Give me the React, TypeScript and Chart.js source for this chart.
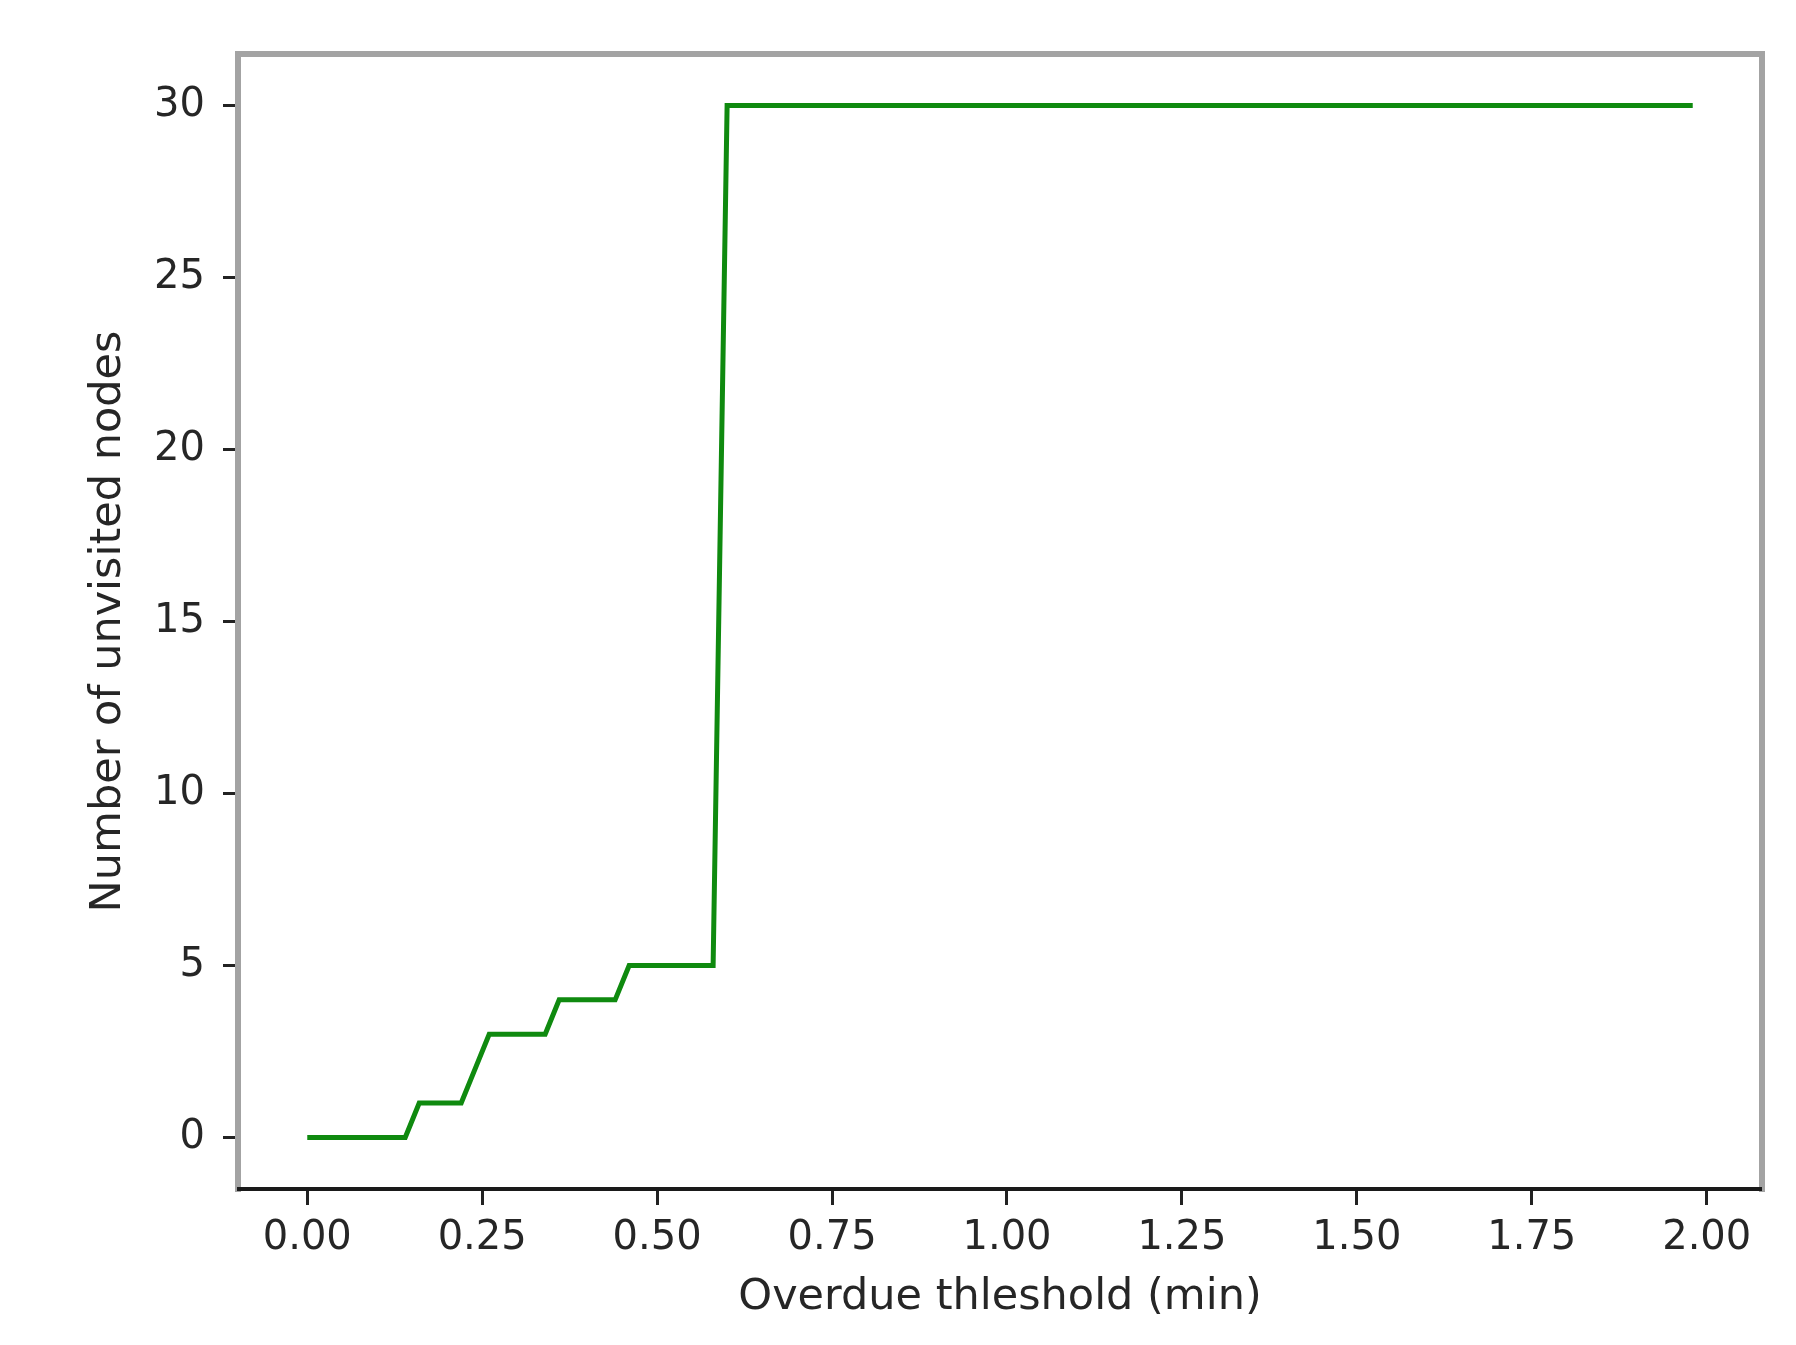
import React, { useEffect, useRef } from "react";
import { Chart, registerables } from "chart.js";

Chart.register(...registerables);

// Overdue threshold (min) breakpoints of the step-like curve
const thresholds = [0, 0.14, 0.16, 0.22, 0.24, 0.26, 0.34, 0.36, 0.44, 0.46, 0.58, 0.6, 1.98];
// Number of unvisited nodes at each threshold
const unvisited = [0, 0, 1, 1, 2, 3, 3, 4, 4, 5, 5, 30, 30];

const xTicks = [0, 0.25, 0.5, 0.75, 1.0, 1.25, 1.5, 1.75, 2.0];
const yTicks = [0, 5, 10, 15, 20, 25, 30];

const xLabel = "Overdue thleshold (min)";
const yLabel = "Number of unvisited nodes";

const W = 1796;
const H = 1345;

export default function App() {
  const ref = useRef<HTMLCanvasElement | null>(null);

  useEffect(() => {
    document.body.style.margin = "0";
    const canvas = ref.current;
    if (!canvas) return;

    const framePlugin = {
      id: "frame",
      afterDatasetsDraw(chart: any) {
        const { ctx, chartArea } = chart;
        const { left, right, top, bottom } = chartArea;
        ctx.save();
        ctx.lineCap = "square";
        ctx.strokeStyle = "#a3a3a3";
        ctx.lineWidth = 6;
        ctx.beginPath();
        ctx.moveTo(left, bottom);
        ctx.lineTo(left, top);
        ctx.lineTo(right, top);
        ctx.lineTo(right, bottom);
        ctx.stroke();
        ctx.strokeStyle = "#1a1a1a";
        ctx.lineWidth = 4;
        ctx.lineCap = "butt";
        ctx.beginPath();
        ctx.moveTo(left - 1, bottom);
        ctx.lineTo(right, bottom);
        ctx.stroke();
        ctx.restore();
      },
    };

    const chart = new Chart(canvas, {
      type: "line",
      data: {
        datasets: [
          {
            data: thresholds.map((x, i) => ({ x, y: unvisited[i] })),
            borderColor: "#0f8a0f",
            borderWidth: 5,
            pointRadius: 0,
            fill: false,
            tension: 0,
            borderJoinStyle: "miter",
          },
        ],
      },
      options: {
        animation: false,
        responsive: false,
        devicePixelRatio: 1,
        layout: { padding: { left: 0, top: 54, right: 34, bottom: 0 } },
        plugins: {
          legend: { display: false },
          tooltip: { enabled: false },
        },
        scales: {
          x: {
            type: "linear",
            min: -0.099,
            max: 2.079,
            afterBuildTicks: (scale: any) => {
              scale.ticks = xTicks.map((v) => ({ value: v }));
            },
            afterFit: (scale: any) => {
              scale.height = 156;
            },
            border: { display: false },
            grid: {
              drawOnChartArea: false,
              drawTicks: true,
              tickLength: 16,
              tickWidth: 3,
              tickColor: "#222",
            },
            ticks: {
              autoSkip: false,
              maxRotation: 0,
              padding: 10,
              color: "#262626",
              font: { family: "DejaVu Sans", size: 40 },
              callback: (v: any) => Number(v).toFixed(2),
            },
            title: {
              display: true,
              text: xLabel,
              color: "#262626",
              padding: 21,
              font: { family: "DejaVu Sans", size: 43 },
            },
          },
          y: {
            type: "linear",
            min: -1.5,
            max: 31.5,
            afterBuildTicks: (scale: any) => {
              scale.ticks = yTicks.map((v) => ({ value: v }));
            },
            afterFit: (scale: any) => {
              scale.width = 238;
            },
            border: { display: false },
            grid: {
              drawOnChartArea: false,
              drawTicks: true,
              tickLength: 15,
              tickWidth: 3,
              tickColor: "#222",
            },
            ticks: {
              autoSkip: false,
              padding: 18,
              color: "#262626",
              font: { family: "DejaVu Sans", size: 40 },
              callback: (v: any) => String(v),
            },
            title: {
              display: true,
              text: yLabel,
              color: "#262626",
              padding: 83,
              font: { family: "DejaVu Sans", size: 43 },
            },
          },
        },
      },
      plugins: [framePlugin],
    } as any);

    return () => {
      chart.destroy();
    };
  }, []);

  return (
    <div style={{ width: W, height: H, background: "#fff" }}>
      <canvas ref={ref} width={W} height={H} style={{ display: "block" }} />
    </div>
  );
}
